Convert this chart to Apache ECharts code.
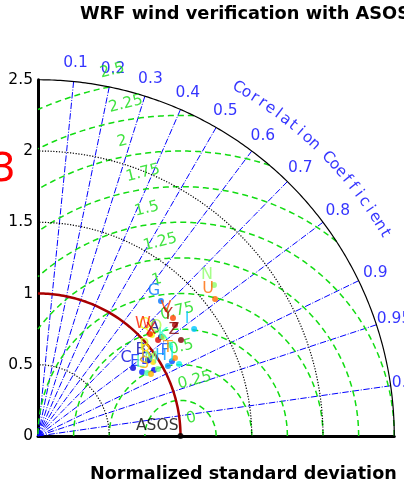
<!DOCTYPE html>
<html><head><meta charset="utf-8">
<script src="https://cdn.jsdelivr.net/npm/echarts@6/dist/echarts.min.js"></script>
<style>html,body{margin:0;padding:0;background:#fff;}#c{width:404px;height:486px;}</style>
</head><body><div id="c"></div>
<script>
// ---- data ----
const modelLabels = ['A','B','C','D','E','F','G','H','I','J','K','L','M','N','O','P','Q','R','S','T','U','V','W','X','Y','Z'];
const stdNorm = [1.108,0.938,0.820,0.937,0.857,1.077,1.282,1.036,1.328,1.111,1.125,0.884,0.964,1.627,1.119,0.972,1.069,0.960,0.904,1.106,1.571,1.258,1.063,1.079,1.237,1.209];
const corrCoef = [0.779,0.823,0.813,0.869,0.852,0.873,0.673,0.880,0.825,0.891,0.823,0.866,0.873,0.759,0.784,0.816,0.748,0.841,0.877,0.869,0.791,0.753,0.739,0.781,0.777,0.830];
const markerColors = ['#000080','#0000ae','#0000dc','#0000ff','#0024ff','#004cff','#0076ff','#009eff','#00c6ff','#08eff0','#29ffce','#4affad','#6dff8a','#8dff6a','#adff4a','#ceff29','#f0ff07','#ffda00','#ffb300','#ff8d00','#ff6800','#ff4300','#ff1d00','#dc0000','#ae0000','#800000'];
const corrTicks = [0.1,0.2,0.3,0.4,0.5,0.6,0.7,0.8,0.9,0.95,0.99];
const rmsdTicks = [0,0.25,0.5,0.75,1,1.25,1.5,1.75,2,2.25,2.5];
const stdDottedArcs = [0.5,1.5,2.0];
const stdMax = 2.5;
const refStd = 1.0;
const refName = 'ASOS';
const corrTitle = 'Correlation Coefficient';

// ---- styles ----
const FONT = 'DejaVu Sans';
const GREEN = '#12dc12';
const BLUE = '#0000ff';
const series = [];

function arcStd(r){const p=[];for(let i=0;i<=200;i++){const t=Math.PI/2*i/200;p.push([r*Math.cos(t),r*Math.sin(t)]);}return p;}
function arcRms(r){
  const cMax=Math.min(1,(stdMax*stdMax-refStd*refStd-r*r)/(2*r*refStd));
  const cMin=Math.max(-1,-refStd/r);
  const t0=Math.acos(cMax), t1=Math.acos(cMin);
  const p=[];for(let i=0;i<=200;i++){const t=t0+(t1-t0)*i/200;p.push([refStd+r*Math.cos(t),r*Math.sin(t)]);}return p;
}
const lineBase={type:'line',showSymbol:false,symbol:'none',silent:true,animation:false};

// correlation rays
corrTicks.forEach(c=>{
  const s=Math.sqrt(1-c*c);
  series.push(Object.assign({},lineBase,{data:[[0,0],[stdMax*c,stdMax*s]],lineStyle:{color:BLUE,width:1,type:[6.4,1.6,1,1.6]},z:2}));
});
// rmsd arcs
rmsdTicks.filter(r=>r>0).forEach(r=>{
  series.push(Object.assign({},lineBase,{data:arcRms(r),lineStyle:{color:GREEN,width:1.5,type:[6,4]},z:3}));
});
// std dotted arcs
stdDottedArcs.forEach(r=>{
  series.push(Object.assign({},lineBase,{data:arcStd(r),lineStyle:{color:'#000',width:1.2,type:[1.2,1.6]},z:4}));
});
// outer arc
series.push(Object.assign({},lineBase,{data:arcStd(stdMax),lineStyle:{color:'#000',width:1.2,type:'solid'},z:4,clip:false}));
// reference arc
series.push(Object.assign({},lineBase,{data:arcStd(refStd),lineStyle:{color:'#a80000',width:2.5,type:'solid'},z:5}));

// correlation tick labels
series.push({type:'scatter',symbolSize:0,silent:true,clip:false,animation:false,z:6,
  data:corrTicks.map(c=>({value:[2.63*c,2.63*Math.sqrt(1-c*c)],name:String(c)})),
  label:{show:true,position:[0,0],align:'center',verticalAlign:'middle',formatter:'{b}',color:BLUE,fontSize:15.5,fontFamily:FONT}});
// curved axis title
const ang0=60.1, step=1.355;
series.push({type:'scatter',symbolSize:0,silent:true,clip:false,animation:false,z:6,
  data:corrTitle.split('').map((ch,i)=>{const a=(ang0-step*i)*Math.PI/180;return {value:[2.82*Math.cos(a),2.82*Math.sin(a)],name:ch,label:{rotate:ang0-step*i-90}};}),
  label:{show:true,position:[0,0],align:'center',verticalAlign:'middle',formatter:'{b}',color:BLUE,fontSize:15.5,fontFamily:FONT}});
// rmsd labels
const la=104*Math.PI/180;
series.push({type:'scatter',symbolSize:0,silent:true,clip:false,animation:false,z:6,
  data:rmsdTicks.map(r=>({value:[refStd+r*Math.cos(la),r*Math.sin(la)],name:String(r)})),
  label:{show:true,position:[8,-9],align:'left',verticalAlign:'bottom',rotate:14,formatter:'{b}',color:GREEN,fontSize:15.5,fontFamily:FONT}});
// reference point
series.push({type:'scatter',symbolSize:6,clip:false,animation:false,z:8,itemStyle:{color:'#000'},
  data:[{value:[refStd,0],name:refName}],
  label:{show:true,position:[1,1],align:'right',verticalAlign:'bottom',formatter:'{b}',color:'#000',fontSize:15.5,fontFamily:FONT}});
// model points
series.push({type:'scatter',symbolSize:6,clip:false,animation:false,z:9,
  data:modelLabels.map((m,i)=>({value:[stdNorm[i]*corrCoef[i],stdNorm[i]*Math.sqrt(1-corrCoef[i]*corrCoef[i])],name:m,
    itemStyle:{color:markerColors[i]},label:{color:markerColors[i]}})),
  label:{show:true,position:[-4,-7],align:'center',verticalAlign:'middle',formatter:'{b}',fontSize:16,fontFamily:FONT}});

const chart=echarts.init(document.getElementById('c'),null,{renderer:'canvas'});
chart.setOption({
  animation:false,
  textStyle:{fontFamily:FONT},
  grid:{left:38,top:79.75,width:356.25,height:356.25},
  xAxis:{type:'value',min:0,max:stdMax,axisLabel:{show:false},axisTick:{show:false},splitLine:{show:false},
    axisLine:{lineStyle:{color:'#000',width:3}}},
  yAxis:{type:'value',min:0,max:stdMax,interval:0.5,axisTick:{show:false},splitLine:{show:false},
    axisLabel:{color:'#000',fontSize:15.5,margin:5,fontFamily:FONT},axisLine:{lineStyle:{color:'#000',width:3}}},
  graphic:[
    {type:'text',x:80,y:14,style:{text:'WRF wind verification with ASOS',fontSize:17.8,fontWeight:'bold',fontFamily:FONT,fill:'#000',verticalAlign:'middle'}},
    {type:'text',x:90,y:474,style:{text:'Normalized standard deviation',fontSize:17.6,fontWeight:'bold',fontFamily:FONT,fill:'#000',verticalAlign:'middle'}},
    {type:'text',x:-9,y:171,style:{text:'3',fontSize:39,fontFamily:FONT,fill:'#ff0000',verticalAlign:'middle'}}
  ],
  series:series
});
</script></body></html>
